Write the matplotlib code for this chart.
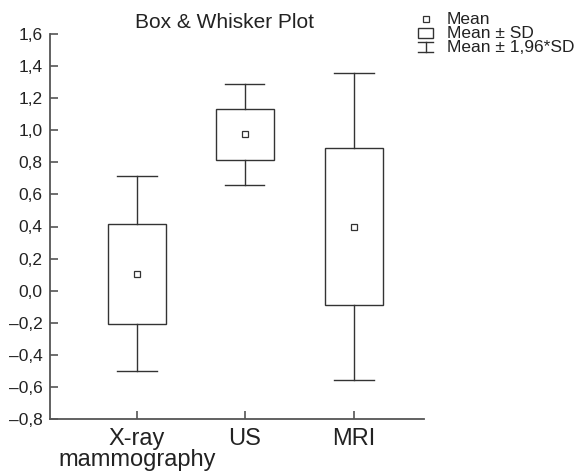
import matplotlib.pyplot as plt
from matplotlib.patches import Rectangle
from matplotlib.lines import Line2D
from matplotlib.ticker import FuncFormatter

plt.rcParams['font.family'] = ['Liberation Sans', 'DejaVu Sans']

methods = ["X-ray\nmammography", "US", "MRI"]
means = [0.105, 0.975, 0.40]
sds = [0.31, 0.16, 0.487]
positions = [1.0, 2.0, 3.02]

box_w = 0.54
cap_w = 0.37
ink = '#333333'
txt = '#222222'

W, H = 586, 471
fig = plt.figure(figsize=(W / 100, H / 100), dpi=100)
ax = fig.add_axes([50 / W, 1 - 419 / H, 374 / W, 385 / H])

for x, m, s in zip(positions, means, sds):
    lo, hi = m - s, m + s
    wlo, whi = m - 1.96 * s, m + 1.96 * s
    ax.add_patch(Rectangle((x - box_w / 2, lo), box_w, hi - lo,
                           fill=False, ec=ink, lw=1.0))
    ax.plot([x, x], [hi, whi], color=ink, lw=1.0)
    ax.plot([x, x], [wlo, lo], color=ink, lw=1.0)
    ax.plot([x - cap_w / 2, x + cap_w / 2], [whi, whi], color=ink, lw=1.0)
    ax.plot([x - cap_w / 2, x + cap_w / 2], [wlo, wlo], color=ink, lw=1.0)
    ax.plot(x, m, marker='s', ms=5, mfc='white', mec=ink, mew=0.9)

ax.set_xlim(0.19, 3.67)
ax.set_ylim(-0.8, 1.6)
ax.set_yticks([i / 10 for i in range(-8, 17, 2)])
ax.yaxis.set_major_formatter(FuncFormatter(
    lambda v, p: f"{v:.1f}".replace('.', ',').replace('-', '\u2013')))
ax.set_xticks(positions)
ax.set_xticklabels(methods, fontsize=17, linespacing=0.95)

for side in ['top', 'right']:
    ax.spines[side].set_visible(False)
for side in ['left', 'bottom']:
    ax.spines[side].set_color('#555555')
    ax.spines[side].set_linewidth(1.3)
ax.tick_params(axis='y', direction='in', length=6, width=1.2,
               color='#555555', labelsize=12.5, pad=5.5, labelcolor=txt)
ax.tick_params(axis='x', direction='in', length=6, width=1.2,
               color='#555555', pad=6.5, labelcolor=txt)

fig.text(224 / W, 1 - 28 / H, "Box & Whisker Plot", fontsize=15,
         ha='center', va='baseline', color=txt)

# legend drawn by hand so the rows sit close together
icon_x = 426
rows = [19, 33, 47]
fig.add_artist(Line2D([icon_x / W], [1 - rows[0] / H], ls='none', marker='s',
                      ms=4.5, mfc='white', mec=ink, mew=0.9))
fig.add_artist(Rectangle(((icon_x - 8) / W, 1 - (rows[1] + 5) / H), 15 / W, 10 / H,
                         fill=False, ec=ink, lw=1.0))
beam_top, beam_bot = rows[2] - 5, rows[2] + 5
for yy in (beam_top, beam_bot):
    fig.add_artist(Line2D([(icon_x - 8) / W, (icon_x + 7) / W],
                          [1 - yy / H, 1 - yy / H], color=ink, lw=1.0))
fig.add_artist(Line2D([icon_x / W, icon_x / W], [1 - beam_top / H, 1 - beam_bot / H],
                      color=ink, lw=1.0))
labels = ["Mean", "Mean \u00b1 SD", "Mean \u00b1 1,96*SD"]
for yy, lab in zip(rows, labels):
    fig.text(447 / W, 1 - yy / H, lab, fontsize=12.5, ha='left', va='center',
             color=txt)

fig.savefig('out.png', dpi=100)
